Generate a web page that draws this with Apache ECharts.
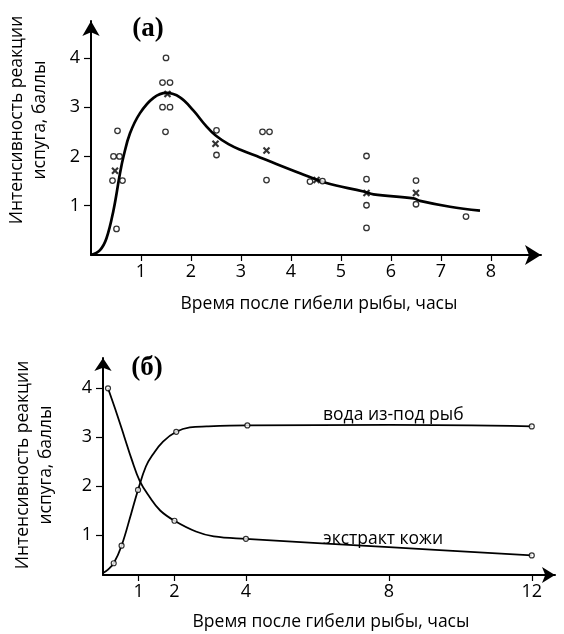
<!DOCTYPE html>
<html>
<head>
<meta charset="utf-8">
<script src="https://cdn.jsdelivr.net/npm/echarts@6/dist/echarts.min.js"></script>
<style>
html, body { margin: 0; padding: 0; background: #fff; }
#main { width: 564px; height: 634px; }
</style>
</head>
<body>
<div id="main"></div>
<script>
// панель (а): кривая, отдельные наблюдения (кружки) и средние (крестики)
var curveA = [[0,0],[0.18,0.1],[0.31,0.34],[0.45,0.91],[0.58,1.66],[0.65,2.0],[0.78,2.47],[0.98,2.88],
    [1.25,3.19],[1.51,3.29],[1.78,3.2],[2.05,2.93],[2.3,2.62],[2.5,2.42],[2.75,2.25],[3.0,2.13],[3.38,1.98],
    [4.18,1.66],[4.71,1.46],[5.45,1.29],[5.65,1.23],[6.45,1.15],[6.58,1.1],[7.18,0.98],[7.78,0.9]];
var pointsA = [[0.43,1.51],[0.45,2.0],[0.51,0.53],[0.53,2.52],[0.57,2.0],[0.63,1.51],
    [1.43,3.5],[1.58,3.5],[1.5,4.0],[1.43,3.0],[1.58,3.0],[1.49,2.5],
    [2.51,2.53],[2.51,2.03],
    [3.43,2.5],[3.57,2.5],[3.51,1.52],
    [4.38,1.49],[4.63,1.5],
    [5.51,2.01],[5.51,1.54],[5.51,1.01],[5.51,0.55],
    [6.5,1.51],[6.5,1.03],
    [7.5,0.78]];
var meansA = [[0.48,1.71],[1.53,3.27],[2.49,2.26],[3.51,2.12],[4.51,1.52],[5.51,1.26],[6.5,1.26]];
var ticksAx = [1,2,3,4,5,6,7,8];
var ticksAy = [1,2,3,4];

// панель (б)
var waterCurve = [[0,0.22],[0.14,0.29],[0.3,0.42],[0.52,0.78],[0.79,1.44],[0.98,1.92],[1.2,2.4],[1.4,2.65],
    [1.68,2.91],[2.05,3.11],[2.43,3.2],[2.9,3.22],[4.04,3.24],[8,3.25],[12,3.22]];
var waterPoints = [[0.3,0.42],[0.52,0.78],[0.98,1.92],[2.05,3.11],[4.04,3.24],[12,3.22]];
var skinCurve = [[0.14,4.0],[0.4,3.45],[0.6,3.0],[0.8,2.55],[1.03,2.1],[1.3,1.78],[1.6,1.5],[2.0,1.29],
    [2.6,1.07],[3.1,0.97],[4.0,0.92],[8,0.75],[12,0.58]];
var skinPoints = [[0.14,4.0],[2.0,1.29],[4.0,0.92],[12,0.58]];
var ticksBx = [1,2,4,8,12];
var ticksBy = [1,2,3,4];

var font = 'Open Sans';
var crossPath = 'path://M0,2L2,0L5,3L8,0L10,2L7,5L10,8L8,10L5,7L2,10L0,8L3,5Z';

function axisX(idx, max, ticks, arrow) {
    return {
        type: 'value', gridIndex: idx, min: 0, max: max,
        axisLine: { show: true, lineStyle: { color: '#000', width: 2 }, symbol: ['none', 'arrow'], symbolSize: arrow },
        axisTick: { show: true, customValues: ticks, length: 6, lineStyle: { color: '#000', width: 1.2 } },
        axisLabel: { customValues: ticks, color: '#000', fontSize: 18, fontFamily: font, margin: 8 },
        splitLine: { show: false }
    };
}
function axisY(idx, min, max, ticks, arrow) {
    return {
        type: 'value', gridIndex: idx, min: min, max: max,
        axisLine: { show: true, lineStyle: { color: '#000', width: 2 }, symbol: ['none', 'arrow'], symbolSize: arrow },
        axisTick: { show: true, customValues: ticks, length: 7, lineStyle: { color: '#000', width: 1.2 } },
        axisLabel: { customValues: ticks, color: '#000', fontSize: 18, fontFamily: font, margin: 11 },
        splitLine: { show: false }
    };
}
function txt(x, y, s, size, opts) {
    var o = { type: 'text', x: x, y: y, rotation: (opts && opts.rot) || 0,
        style: { text: s, fill: '#000', fontSize: size, fontFamily: (opts && opts.family) || font,
            fontWeight: (opts && opts.weight) || 'normal', textAlign: (opts && opts.align) || 'center',
            textVerticalAlign: 'middle', lineHeight: (opts && opts.lh) || size } };
    return o;
}

var option = {
    backgroundColor: '#fff',
    animation: false,
    grid: [
        { left: 91, top: 21, width: 450, height: 234 },
        { left: 103, top: 358, width: 452, height: 217 }
    ],
    xAxis: [axisX(0, 9, ticksAx, [15, 16]), axisX(1, 12.65, ticksBx, [12, 13])],
    yAxis: [axisY(0, 0, 4.75, ticksAy, [13, 15]), axisY(1, 0.18, 4.62, ticksBy, [13, 13])],
    graphic: [
        txt(148, 29, '(a)', 27, { family: 'Liberation Serif', weight: 'bold' }),
        txt(147, 368, '(б)', 27, { family: 'Liberation Serif', weight: 'bold' }),
        txt(29, 120, 'Интенсивность реакции\nиспуга, баллы', 17.5, { rot: Math.PI / 2, lh: 23 }),
        txt(35, 465, 'Интенсивность реакции\nиспуга, баллы', 17.5, { rot: Math.PI / 2, lh: 23 }),
        txt(319, 304, 'Время после гибели рыбы, часы', 17.5),
        txt(331, 622, 'Время после гибели рыбы, часы', 17.5),
        txt(323, 415, 'вода из-под рыб', 17.5, { align: 'left' }),
        txt(323, 539, 'экстракт кожи', 17.5, { align: 'left' })
    ],
    series: [
        { type: 'line', xAxisIndex: 0, yAxisIndex: 0, data: curveA, smooth: 0.4, showSymbol: false,
          lineStyle: { color: '#000', width: 2.7 } },
        { type: 'scatter', xAxisIndex: 0, yAxisIndex: 0, data: pointsA, symbol: 'circle', symbolSize: 5.5,
          itemStyle: { color: '#fff', borderColor: '#000', borderWidth: 1.3 }, z: 3 },
        { type: 'scatter', xAxisIndex: 0, yAxisIndex: 0, data: meansA, symbol: crossPath, symbolSize: 7.5,
          itemStyle: { color: '#000' }, z: 4 },
        { type: 'line', xAxisIndex: 1, yAxisIndex: 1, data: waterCurve, smooth: 0.4, showSymbol: false,
          lineStyle: { color: '#000', width: 1.8 } },
        { type: 'line', xAxisIndex: 1, yAxisIndex: 1, data: skinCurve, smooth: 0.4, showSymbol: false,
          lineStyle: { color: '#000', width: 1.8 } },
        { type: 'scatter', xAxisIndex: 1, yAxisIndex: 1, data: waterPoints.concat(skinPoints), symbol: 'circle',
          symbolSize: 5, itemStyle: { color: '#fff', borderColor: '#000', borderWidth: 1.2 }, z: 3 }
    ]
};

var myChart = echarts.init(document.getElementById('main'));
myChart.setOption(option);
</script>
</body>
</html>
